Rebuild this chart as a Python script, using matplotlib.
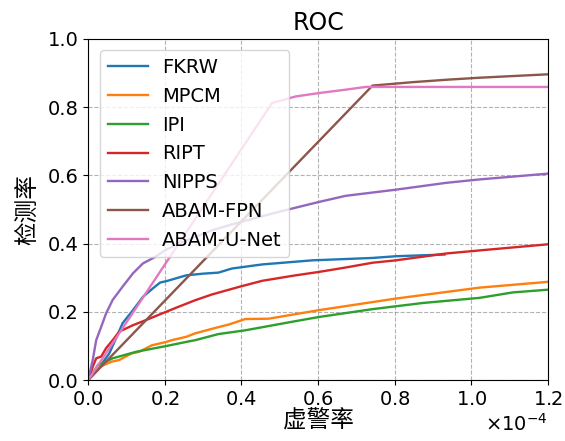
import numpy as np
import matplotlib
matplotlib.use("Agg")
import matplotlib.pyplot as plt
from matplotlib.ticker import ScalarFormatter

plt.rcParams['font.family'] = ['DejaVu Sans', 'Noto Sans CJK SC']

SCALE = 1e-4  # x values below are in units of 1e-4

fkrw_x = [0, 0.03, 0.055, 0.073, 0.09, 0.117, 0.143, 0.169, 0.188, 0.204, 0.256, 0.30, 0.34, 0.375, 0.454, 0.585, 0.742, 0.803, 0.93]
fkrw_y = [0, 0.039, 0.078, 0.123, 0.167, 0.205, 0.244, 0.269, 0.286, 0.290, 0.307, 0.312, 0.315, 0.327, 0.339, 0.351, 0.358, 0.363, 0.368]

mpcm_x = [0, 0.03, 0.061, 0.081, 0.113, 0.133, 0.166, 0.204, 0.218, 0.256, 0.279, 0.332, 0.367, 0.41, 0.471, 0.602, 0.803, 1.021, 1.2]
mpcm_y = [0, 0.039, 0.054, 0.059, 0.078, 0.083, 0.102, 0.112, 0.117, 0.127, 0.137, 0.153, 0.163, 0.179, 0.180, 0.205, 0.239, 0.271, 0.288]

ipi_x = [0, 0.026, 0.038, 0.064, 0.125, 0.204, 0.256, 0.279, 0.34, 0.41, 0.532, 0.602, 0.742, 0.873, 1.021, 1.108, 1.2]
ipi_y = [0, 0.045, 0.050, 0.064, 0.083, 0.100, 0.112, 0.117, 0.135, 0.146, 0.171, 0.185, 0.208, 0.226, 0.241, 0.257, 0.265]

ript_x = [0, 0.012, 0.021, 0.034, 0.047, 0.064, 0.081, 0.117, 0.151, 0.192, 0.236, 0.279, 0.323, 0.393, 0.454, 0.541, 0.602, 0.672, 0.742, 0.803, 0.934, 1.021, 1.2]
ript_y = [0, 0.039, 0.064, 0.069, 0.094, 0.117, 0.142, 0.161, 0.176, 0.195, 0.215, 0.234, 0.251, 0.273, 0.291, 0.307, 0.317, 0.330, 0.344, 0.351, 0.371, 0.380, 0.398]

nipps_x = [0, 0.012, 0.021, 0.034, 0.047, 0.064, 0.09, 0.117, 0.143, 0.175, 0.2, 0.236, 0.323, 0.384, 0.497, 0.602, 0.672, 0.803, 0.934, 1.021, 1.2]
nipps_y = [0, 0.059, 0.117, 0.156, 0.196, 0.235, 0.274, 0.313, 0.342, 0.361, 0.380, 0.400, 0.439, 0.459, 0.493, 0.522, 0.540, 0.558, 0.578, 0.588, 0.605]

fpn_x = [0, 0.742, 0.847, 0.934, 1.021, 1.2]
fpn_y = [0, 0.863, 0.873, 0.880, 0.886, 0.896]

unet_x = [0, 0.48, 0.541, 0.602, 0.672, 0.724, 1.2]
unet_y = [0, 0.812, 0.831, 0.841, 0.851, 0.859, 0.859]

labels = ['FKRW', 'MPCM', 'IPI', 'RIPT', 'NIPPS', 'ABAM-FPN', 'ABAM-U-Net']
series = [(fkrw_x, fkrw_y), (mpcm_x, mpcm_y), (ipi_x, ipi_y), (ript_x, ript_y),
          (nipps_x, nipps_y), (fpn_x, fpn_y), (unet_x, unet_y)]

fig = plt.figure(figsize=(5.65, 4.41), dpi=100)
ax = fig.add_axes([0.156, 0.138, 0.814, 0.774])

for (xs, ys), lab in zip(series, labels):
    ax.plot(np.array(xs) * SCALE, ys, label=lab, linewidth=1.7)

ax.set_xlim(0, 1.2e-4)
ax.set_ylim(0, 1.0)
ax.set_xticks(np.arange(0, 1.21, 0.2) * SCALE)
ax.set_yticks(np.arange(0, 1.01, 0.2))
fmt = ScalarFormatter(useMathText=True)
fmt.set_powerlimits((-3, 3))
ax.xaxis.set_major_formatter(fmt)
ax.xaxis.get_offset_text().set_fontsize(14)
ax.tick_params(labelsize=14)
ax.grid(True, linestyle='--', color='gray', alpha=0.6)
ax.set_title('ROC', fontsize=17)
ax.set_xlabel('虚警率', fontsize=17, family=['Noto Sans CJK SC'], labelpad=0)
ax.set_ylabel('检测率', fontsize=17, family=['Noto Sans CJK SC'], labelpad=6)
ax.legend(loc='upper left', fontsize=14, handlelength=2.1, handletextpad=0.7,
          borderaxespad=0.6)

fig.savefig('out.png', dpi=100)
